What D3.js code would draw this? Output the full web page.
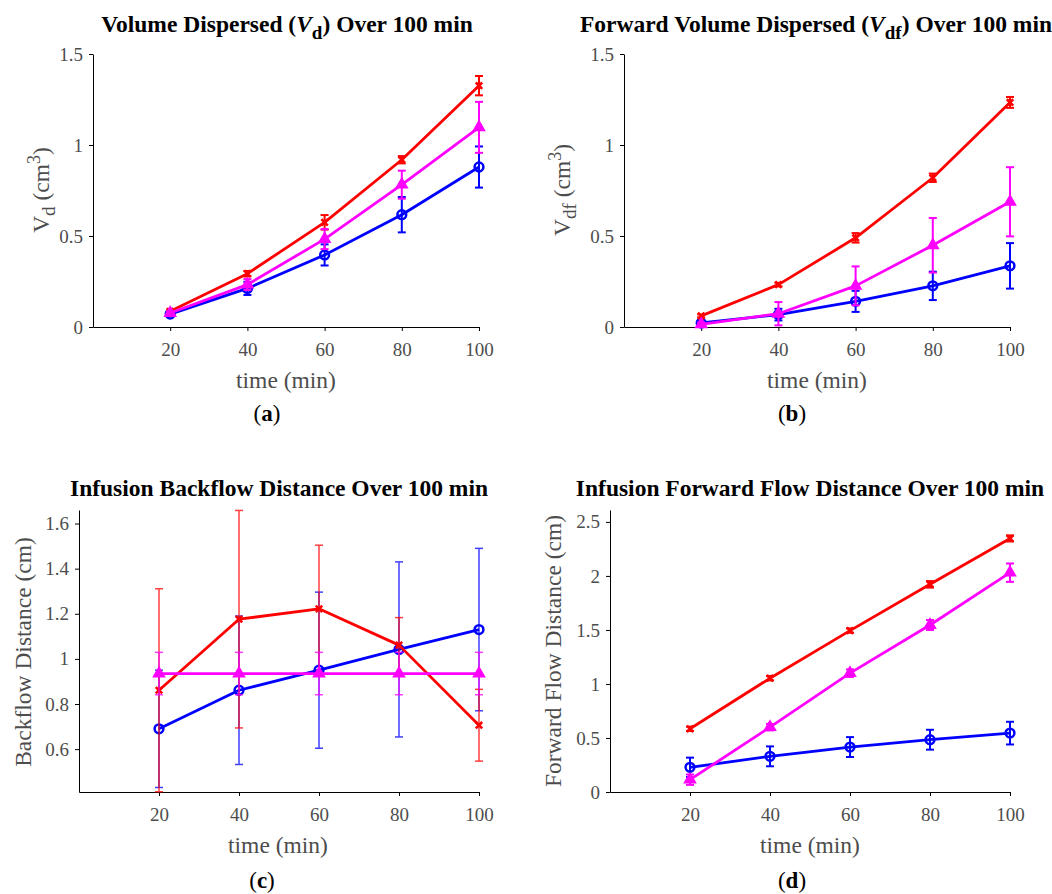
<!DOCTYPE html>
<html>
<head>
<meta charset="utf-8">
<script src="https://cdn.jsdelivr.net/npm/d3@7"></script>
<style>
  body { margin: 0; background: #fff; }
  svg { display: block; }
  text { font-family: "Liberation Serif", "Times New Roman", serif; }
</style>
</head>
<body>
<svg id="fig" width="1052" height="894"></svg>
<script>
// Sampling times (min) shared by all four panels
const times = [20, 40, 60, 80, 100];
const xTicks = [20, 40, 60, 80, 100];

// (a) Volume dispersed Vd (cm^3): mean and error for each group
const vdRed = [0.086, 0.293, 0.575, 0.919, 1.326];
const vdRedErr = [0.010, 0.015, 0.040, 0.020, 0.053];
const vdMag = [0.077, 0.233, 0.483, 0.782, 1.097];
const vdMagErr = [0.010, 0.030, 0.055, 0.077, 0.140];
const vdBlue = [0.071, 0.212, 0.396, 0.617, 0.879];
const vdBlueErr = [0.010, 0.036, 0.058, 0.097, 0.113];
const vdTicks = [0, 0.5, 1, 1.5];

// (b) Forward volume dispersed Vdf (cm^3)
const vdfRed = [0.061, 0.233, 0.490, 0.820, 1.234];
const vdfRedErr = [0.008, 0.010, 0.026, 0.023, 0.030];
const vdfMag = [0.015, 0.073, 0.226, 0.449, 0.688];
const vdfMagErr = [0.010, 0.064, 0.107, 0.150, 0.190];
const vdfBlue = [0.022, 0.068, 0.141, 0.226, 0.336];
const vdfBlueErr = [0.010, 0.032, 0.058, 0.078, 0.125];
const vdfTicks = [0, 0.5, 1, 1.5];

// (c) Backflow distance (cm)
const bfRed = [0.861, 1.176, 1.222, 1.061, 0.706];
const bfRedErr = [0.450, 0.482, 0.282, 0.122, 0.159];
const bfMag = [0.935, 0.935, 0.935, 0.935, 0.935];
const bfMagErr = [0.094, 0.094, 0.094, 0.094, 0.094];
const bfBlue = [0.690, 0.861, 0.950, 1.042, 1.130];
const bfBlueErr = [0.260, 0.329, 0.346, 0.388, 0.360];
const bfTicks = [0.6, 0.8, 1, 1.2, 1.4, 1.6];

// (d) Forward flow distance (cm)
const ffRed = [0.585, 1.053, 1.494, 1.922, 2.347];
const ffRedErr = [0.020, 0.020, 0.020, 0.030, 0.028];
const ffMag = [0.114, 0.600, 1.100, 1.546, 2.030];
const ffMagErr = [0.048, 0.030, 0.035, 0.046, 0.085];
const ffBlue = [0.228, 0.330, 0.416, 0.484, 0.545];
const ffBlueErr = [0.090, 0.092, 0.092, 0.092, 0.105];
const ffTicks = [0, 0.5, 1, 1.5, 2, 2.5];

const RED = "#ff0000", MAG = "#ff00ff", BLUE = "#0000ff";
const TICK_GRAY = "#4d4d4d";

const svg = d3.select("#fig");

function series(values, errors, color, marker) {
  return { values, errors, color, marker };
}

function drawPanel(cfg) {
  const g = svg.append("g");
  const x = d3.scaleLinear().domain([0, 100]).range([cfg.x0, cfg.x1]);
  const y = d3.scaleLinear().domain(cfg.yDomain).range([cfg.y0, cfg.y1]);

  // axes
  const xAxis = g.append("g")
    .attr("transform", `translate(0,${cfg.y0})`)
    .call(d3.axisBottom(x).tickValues(xTicks).tickSize(4).tickSizeOuter(0).tickPadding(12));
  const yAxis = g.append("g")
    .attr("transform", `translate(${cfg.x0},0)`)
    .call(d3.axisLeft(y).tickValues(cfg.yTicks).tickSize(4).tickSizeOuter(0).tickPadding(6)
      .tickFormat(d => String(+d.toFixed(2))));
  [xAxis, yAxis].forEach(ax => {
    ax.select(".domain").attr("stroke", "#000").attr("stroke-width", 1);
    ax.selectAll(".tick line").attr("stroke", "#000").attr("stroke-width", 1);
    ax.selectAll(".tick text")
      .attr("fill", TICK_GRAY)
      .style("font-size", "19px")
      .style("font-family", '"Liberation Serif", serif');
  });

  // data layers
  const plot = g.append("g");
  cfg.series.forEach(s => {
    const pts = times.map((t, i) => ({ t, v: s.values[i], e: s.errors[i] }));
    const eb = plot.append("g")
      .attr("stroke", s.color)
      .attr("stroke-width", cfg.errWidth)
      .attr("opacity", cfg.errOpacity);
    pts.forEach(p => {
      const cx = x(p.t), yTop = y(p.v + p.e), yBot = y(p.v - p.e);
      eb.append("line").attr("x1", cx).attr("x2", cx).attr("y1", yTop).attr("y2", yBot);
      eb.append("line").attr("x1", cx - 4).attr("x2", cx + 4).attr("y1", yTop).attr("y2", yTop);
      eb.append("line").attr("x1", cx - 4).attr("x2", cx + 4).attr("y1", yBot).attr("y2", yBot);
    });

    plot.append("path")
      .datum(pts)
      .attr("fill", "none")
      .attr("stroke", s.color)
      .attr("stroke-width", 2.8)
      .attr("stroke-linejoin", "round")
      .attr("d", d3.line().x(d => x(d.t)).y(d => y(d.v)));

    const mk = plot.append("g");
    pts.forEach(p => {
      const cx = x(p.t), cy = y(p.v);
      if (s.marker === "circle") {
        mk.append("circle").attr("cx", cx).attr("cy", cy).attr("r", 4.4)
          .attr("fill", "none").attr("stroke", s.color).attr("stroke-width", 2.5);
      } else if (s.marker === "triangle") {
        mk.append("path")
          .attr("transform", `translate(${cx},${cy})`)
          .attr("d", d3.symbol(d3.symbolTriangle, 58)())
          .attr("fill", s.color).attr("stroke", s.color).attr("stroke-width", 1.2);
      } else {
        mk.append("path")
          .attr("transform", `translate(${cx},${cy})`)
          .attr("d", "M-3.2,-3.2L3.2,3.2M-3.2,3.2L3.2,-3.2")
          .attr("stroke", s.color).attr("stroke-width", 2.6).attr("fill", "none");
      }
    });
  });

  // title
  const title = g.append("text")
    .attr("x", cfg.titleX).attr("y", cfg.titleY)
    .attr("text-anchor", "middle")
    .style("font-size", "23.5px").style("font-weight", "bold").attr("fill", "#000");
  cfg.title(title);

  // x label
  g.append("text")
    .attr("x", cfg.xLabelX).attr("y", cfg.xLabelY)
    .attr("text-anchor", "middle")
    .style("font-size", "23.5px").attr("fill", TICK_GRAY)
    .text("time (min)");

  // y label
  const yl = g.append("text")
    .attr("transform", `translate(${cfg.yLabelX},${cfg.yLabelY}) rotate(-90)`)
    .attr("text-anchor", "middle")
    .style("font-size", "23.5px").attr("fill", TICK_GRAY);
  cfg.yLabel(yl);

  // panel letter
  const pl = g.append("text")
    .attr("x", cfg.letterX).attr("y", cfg.letterY)
    .attr("text-anchor", "middle")
    .style("font-size", "23px").attr("fill", "#000");
  pl.append("tspan").text("(");
  pl.append("tspan").style("font-weight", "bold").text(cfg.letter);
  pl.append("tspan").text(")");
}

function subTitle(prefix, sym, sub, suffix) {
  return t => {
    t.append("tspan").text(prefix);
    t.append("tspan").style("font-style", "italic").text(sym);
    t.append("tspan").attr("dy", 7).style("font-size", "19px").text(sub);
    t.append("tspan").attr("dy", -7).text(suffix);
  };
}

function volLabel(sub) {
  return t => {
    t.append("tspan").text("V");
    t.append("tspan").attr("dy", 6).style("font-size", "19px").text(sub);
    t.append("tspan").attr("dy", -6).text(" (cm");
    t.append("tspan").attr("dy", -9).style("font-size", "18px").text("3");
    t.append("tspan").attr("dy", 9).text(")");
  };
}

drawPanel({
  x0: 93, x1: 479, y0: 327, y1: 54, yDomain: [0, 1.5], yTicks: vdTicks,
  series: [series(vdBlue, vdBlueErr, BLUE, "circle"),
           series(vdRed, vdRedErr, RED, "x"),
           series(vdMag, vdMagErr, MAG, "triangle")],
  errWidth: 2, errOpacity: 1,
  titleX: 287, titleY: 32, title: subTitle("Volume Dispersed (", "V", "d", ") Over 100 min"),
  xLabelX: 286, xLabelY: 388,
  yLabelX: 49, yLabelY: 190, yLabel: volLabel("d"),
  letterX: 267, letterY: 421, letter: "a"
});

drawPanel({
  x0: 624, x1: 1010, y0: 327, y1: 54, yDomain: [0, 1.5], yTicks: vdfTicks,
  series: [series(vdfBlue, vdfBlueErr, BLUE, "circle"),
           series(vdfRed, vdfRedErr, RED, "x"),
           series(vdfMag, vdfMagErr, MAG, "triangle")],
  errWidth: 2, errOpacity: 1,
  titleX: 816, titleY: 32, title: subTitle("Forward Volume Dispersed (", "V", "df", ") Over 100 min"),
  xLabelX: 817, xLabelY: 388,
  yLabelX: 570, yLabelY: 190, yLabel: volLabel("df"),
  letterX: 792, letterY: 421, letter: "b"
});

drawPanel({
  x0: 79, x1: 479, y0: 792, y1: 510, yDomain: [0.41, 1.66], yTicks: bfTicks,
  series: [series(bfBlue, bfBlueErr, BLUE, "circle"),
           series(bfRed, bfRedErr, RED, "x"),
           series(bfMag, bfMagErr, MAG, "triangle")],
  errWidth: 1.5, errOpacity: 0.75,
  titleX: 279, titleY: 496, title: t => t.text("Infusion Backflow Distance Over 100 min"),
  xLabelX: 278, xLabelY: 853,
  yLabelX: 31, yLabelY: 652, yLabel: t => t.text("Backflow Distance (cm)"),
  letterX: 262, letterY: 888, letter: "c"
});

drawPanel({
  x0: 610, x1: 1010, y0: 792, y1: 510, yDomain: [0, 2.61], yTicks: ffTicks,
  series: [series(ffBlue, ffBlueErr, BLUE, "circle"),
           series(ffRed, ffRedErr, RED, "x"),
           series(ffMag, ffMagErr, MAG, "triangle")],
  errWidth: 2, errOpacity: 1,
  titleX: 810, titleY: 496, title: t => t.text("Infusion Forward Flow Distance Over 100 min"),
  xLabelX: 810, xLabelY: 853,
  yLabelX: 561, yLabelY: 651, yLabel: t => t.text("Forward Flow Distance (cm)"),
  letterX: 792, letterY: 888, letter: "d"
});
</script>
</body>
</html>
